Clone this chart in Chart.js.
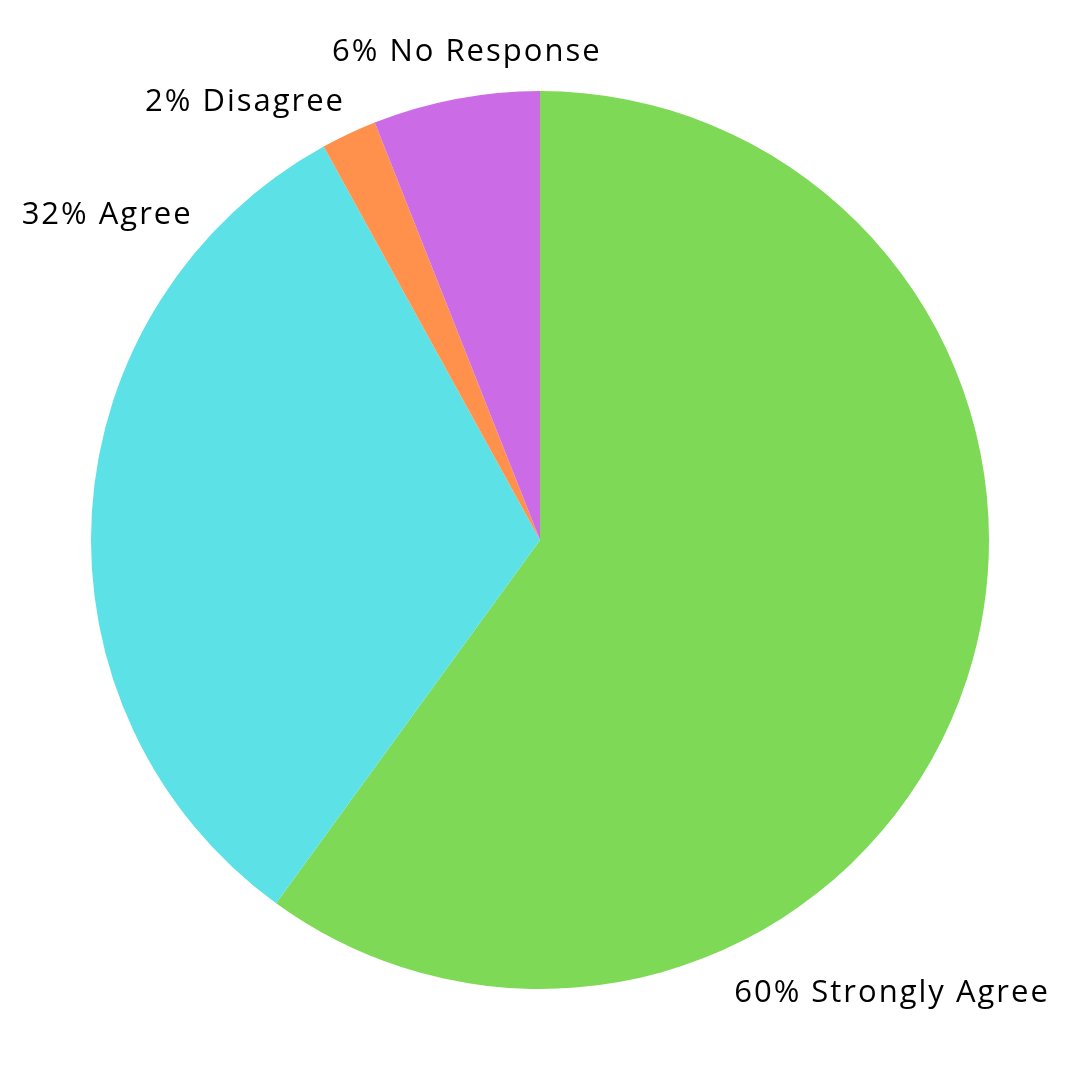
<!DOCTYPE html>
<html>
<head>
<meta charset="utf-8">
<script src="https://cdn.jsdelivr.net/npm/chart.js@4"></script>
<style>
  html, body { margin: 0; padding: 0; background: #fff; }
  #wrap { width: 1080px; height: 1080px; }
</style>
</head>
<body>
<div id="wrap"><canvas id="myChart" width="1080" height="1080"></canvas></div>
<script>
const categories = ["Strongly Agree", "Agree", "Disagree", "No Response"];
const values = [60, 32, 2, 6];
const colors = ["#7ED957", "#5CE1E6", "#FF914D", "#CB6CE6"];

// label centre offsets, in units of the pie radius, from the pie centre
const labelOffsets = [
  [0.784, 1.01],
  [-0.964, -0.724],
  [-0.657, -0.976],
  [-0.163, -1.087],
];

const outsideLabels = {
  id: "outsideLabels",
  afterDraw(chart) {
    const ctx = chart.ctx;
    const meta = chart.getDatasetMeta(0);
    ctx.save();
    ctx.fillStyle = "#000";
    ctx.font = "31px 'Open Sans'";
    ctx.letterSpacing = "2px";
    ctx.textAlign = "center";
    ctx.textBaseline = "middle";
    meta.data.forEach((arc, i) => {
      const r = arc.outerRadius;
      const off = labelOffsets[i];
      ctx.fillText(values[i] + "% " + categories[i], arc.x + off[0] * r, arc.y + off[1] * r);
    });
    ctx.restore();
  },
};

const data = {
  labels: categories,
  datasets: [
    {
      data: values,
      backgroundColor: colors,
      borderWidth: 0,
    },
  ],
};

const config = {
  type: "pie",
  data: data,
  options: {
    responsive: false,
    animation: false,
    layout: { padding: 91 },
    plugins: {
      legend: { display: false },
      tooltip: { enabled: false },
    },
  },
  plugins: [outsideLabels],
};

const pieChart = new Chart(document.getElementById("myChart"), config);
</script>
</body>
</html>
